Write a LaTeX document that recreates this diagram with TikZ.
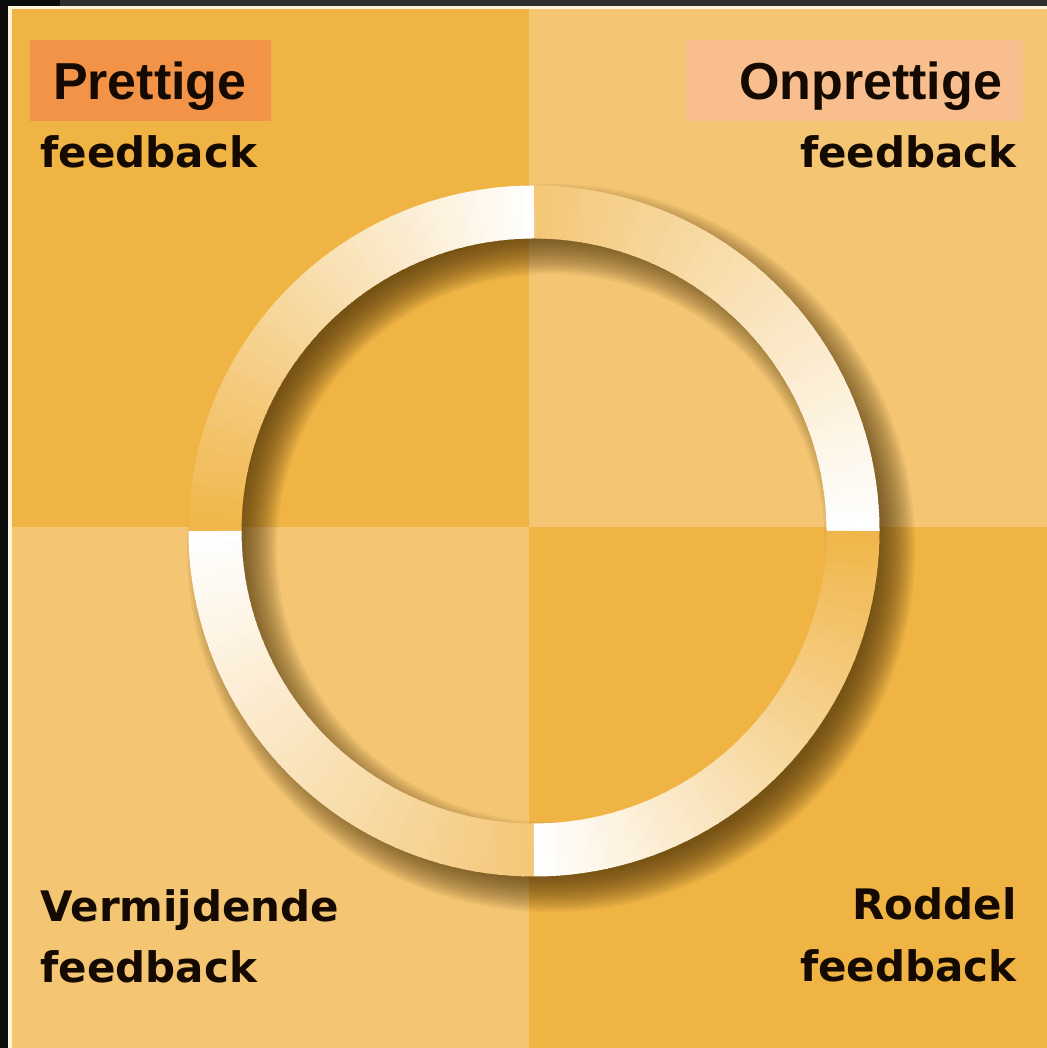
\documentclass[tikz,border=0pt]{standalone}
\usepackage{fontspec}
\usepackage{xcolor}
\newfontfamily\kopfont{Liberation Sans}
\newfontfamily\fbfont{DejaVu Sans}
\definecolor{donker}{HTML}{F0B445}
\definecolor{licht}{HTML}{F4C674}
\definecolor{prettigvak}{HTML}{F39347}
\definecolor{onprettigvak}{HTML}{F8BE8E}
\definecolor{rand}{HTML}{0C0C0C}
\definecolor{bovenrand}{HTML}{2F2F2F}
\definecolor{creme}{HTML}{FFF4D8}
\definecolor{tekst}{HTML}{140A02}
\definecolor{schaduw}{HTML}{4A3006}

\begin{document}
\begin{tikzpicture}[x=0.5pt, y=0.5pt,
	kop/.style={font=\kopfont\bfseries\fontsize{26pt}{30pt}\selectfont, text=tekst,
		text height=18.6pt, text depth=0pt, minimum height=40.5pt, inner ysep=0pt},
	fb/.style={font=\fbfont\bfseries\fontsize{21pt}{25pt}\selectfont, text=tekst, inner sep=0pt}]
	\useasboundingbox (0,0) rectangle (1047,1048);
	\fill[rand] (0,0) rectangle (1047,1048);
	\fill[bovenrand] (60,1042) rectangle (1047,1048);
	\fill[creme] (8,0) rectangle (1047,1042);
	\fill[donker] (12,521) rectangle (529,1039);
	\fill[licht] (529,521) rectangle (1047,1039);
	\fill[licht] (12,0) rectangle (529,521);
	\fill[donker] (529,0) rectangle (1047,521);

	\coordinate (ring) at (534,517);
	\coordinate (ringschaduw) at (551,500);
	\foreach \k in {0,...,16}{
		\pgfmathsetmacro{\lw}{(90-4.6*\k)/2}
		\draw[schaduw, opacity=0.065, line width=\lw pt] (ringschaduw) circle (319);
	}
	\foreach \hoek/\kleur in {0/licht,90/donker,180/licht,270/donker}{
		\foreach \k in {0,...,44}{
			\pgfmathtruncatemacro{\wit}{100-2.2*\k}
			\pgfmathsetmacro{\van}{\hoek+2*\k}
			\pgfmathsetmacro{\tot}{min(\hoek+2*\k+2.4,\hoek+90)}
			\draw[line width=26.5pt, draw=white!\wit!\kleur] (ring) ++(\van:319) arc[start angle=\van, end angle=\tot, radius=319];
		}
	}

	\node[kop, fill=prettigvak, text width=97.5pt, inner xsep=11.5pt, align=left] (prettige) at (150.5,967.5) {Prettige};
	\node[kop, fill=onprettigvak, text width=147.5pt, inner xsep=10.5pt, align=right] (onprettige) at (854.5,967.5) {Onprettige};
	\node[fb, anchor=base west] (fbprettig) at (40,880) {feedback};
	\node[fb, anchor=base east] (fbonprettig) at (1017,880) {feedback};
	\node[fb, anchor=base west] (vermijdend) at (40,126) {Vermijdende};
	\node[fb, anchor=base west] (fbvermijdend) at (40,65) {feedback};
	\node[fb, anchor=base east] (roddel) at (1017,128) {Roddel};
	\node[fb, anchor=base east] (fbroddel) at (1017,66) {feedback};
\end{tikzpicture}
\end{document}
